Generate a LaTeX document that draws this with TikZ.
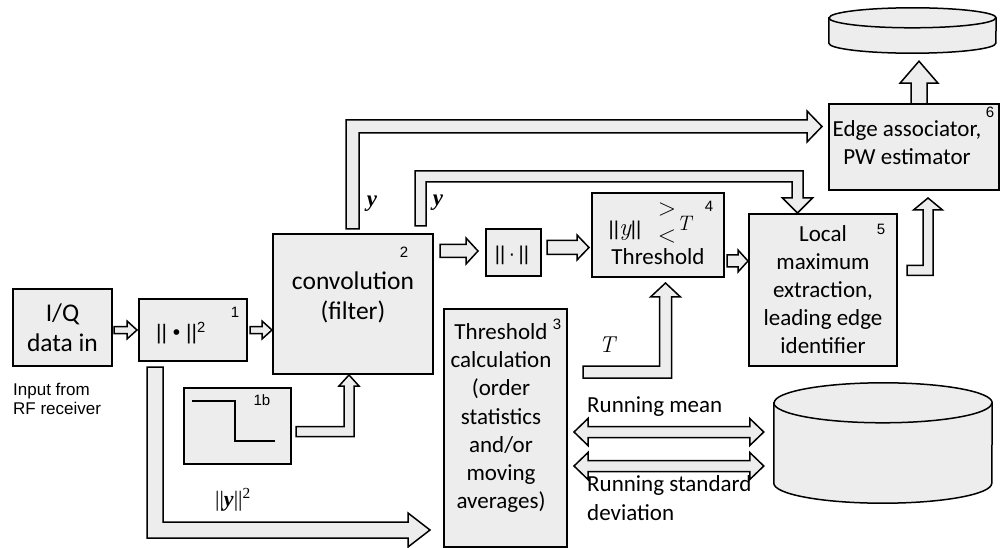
\documentclass[tikz,border=0pt]{standalone}
\usepackage{fontspec}
\setmainfont{Carlito}
\newfontfamily\arialf{Liberation Sans}
\newfontfamily\timesf{Liberation Serif}
\newfontfamily\lmr{Latin Modern Roman}
\usetikzlibrary{calc}
\definecolor{boxgray}{RGB}{237,237,237}

\tikzset{
  blk/.style={draw=black, line width=1.5pt, fill=boxgray, line join=miter},
  box/.style={draw=black, line width=1.6pt, fill=boxgray, inner sep=0pt, outer sep=0pt},
  txt/.style={inner sep=0pt, align=center, font=\fontsize{23}{28.2}\selectfont},
  big/.style={inner sep=0pt, align=center, font=\fontsize{25.5}{30}\selectfont},
  num/.style={inner sep=0pt, font=\arialf\fontsize{15}{15}\selectfont},
}

% straight hollow block arrow: tail #1, tip #2, half shaft #3, half head #4, head length #5
\newcommand\blockarrow[5]{%
  \coordinate (bt) at (#2);
  \coordinate (bh) at ($(#2)!#5!(#1)$);
  \draw[blk] ($(#1)!#3!90:(bt)$) -- ($(bh)!#3!90:(bt)$) -- ($(bh)!#4!90:(bt)$) -- (bt)
    -- ($(bh)!#4!-90:(bt)$) -- ($(bh)!#3!-90:(bt)$) -- ($(#1)!#3!-90:(bt)$) -- cycle;}

% block arrow with one bend: tail #1, corner #2, tip #3
\newcommand\bendarrow[6]{%
  \coordinate (bt) at (#3);
  \coordinate (bk) at (#2);
  \coordinate (bh) at ($(#3)!#6!(#2)$);
  \draw[blk] ($(#1)!#4!90:(bk)$)
    -- ($(#1)!#4!90:(bk) - (#1) + (bk)!#4!90:(bt)$)
    -- ($(bh)!#4!90:(bt)$) -- ($(bh)!#5!90:(bt)$) -- (bt)
    -- ($(bh)!#5!-90:(bt)$) -- ($(bh)!#4!-90:(bt)$)
    -- ($(#1)!#4!-90:(bk) - (#1) + (bk)!#4!-90:(bt)$)
    -- ($(#1)!#4!-90:(bk)$) -- cycle;}

% block arrow with two bends: tail #1, corners #2 and #3, tip #4
\newcommand\twobendarrow[7]{%
  \coordinate (bt) at (#4);
  \coordinate (bk) at (#2);
  \coordinate (bl) at (#3);
  \coordinate (bh) at ($(#4)!#7!(#3)$);
  \draw[blk] ($(#1)!#5!90:(bk)$)
    -- ($(#1)!#5!90:(bk) - (#1) + (bk)!#5!90:(bl)$)
    -- ($(bk)!#5!90:(bl) - (bk) + (bl)!#5!90:(bt)$)
    -- ($(bh)!#5!90:(bt)$) -- ($(bh)!#6!90:(bt)$) -- (bt)
    -- ($(bh)!#6!-90:(bt)$) -- ($(bh)!#5!-90:(bt)$)
    -- ($(bk)!#5!-90:(bl) - (bk) + (bl)!#5!-90:(bt)$)
    -- ($(#1)!#5!-90:(bk) - (#1) + (bk)!#5!-90:(bl)$)
    -- ($(#1)!#5!-90:(bk)$) -- cycle;}

% straight block arrow with heads at both ends
\newcommand\dblarrow[5]{%
  \coordinate (da) at (#1);
  \coordinate (db) at (#2);
  \coordinate (dha) at ($(#1)!#5!(#2)$);
  \coordinate (dhb) at ($(#2)!#5!(#1)$);
  \draw[blk] (da) -- ($(dha)!#4!90:(db)$) -- ($(dha)!#3!90:(db)$) -- ($(dhb)!#3!90:(db)$)
    -- ($(dhb)!#4!90:(db)$) -- (db) -- ($(dhb)!#4!-90:(db)$) -- ($(dhb)!#3!-90:(db)$)
    -- ($(dha)!#3!-90:(db)$) -- ($(dha)!#4!-90:(db)$) -- cycle;}

\begin{document}
\begin{tikzpicture}[x=1pt, y=-1pt]
\useasboundingbox (0,0) rectangle (1002,548);

% input
\node[box, minimum width=99pt, minimum height=77pt] (iq) at (62.5,327.5) {};
\node[big] (iqtext) at (62.5,328) {I/Q\\data in};
\node[inner sep=0pt, align=left, anchor=west, font=\arialf\fontsize{17}{19}\selectfont] (rfnote) at (13,399) {Input from\\RF receiver};

% squared magnitude
\node[box, minimum width=108pt, minimum height=62pt] (b1) at (193,330) {};
\node[inner sep=0pt, font=\arialf\fontsize{21}{21}\selectfont] (b1text) at (181,333) {||\ •\ ||\textsuperscript{2}};
\node[num] (b1num) at (235,312) {1};

% filter template
\node[box, minimum width=107pt, minimum height=76pt] (b1b) at (237.5,426) {};
\node[num] (b1bnum) at (262,400) {1b};
\draw[line width=2.6pt] ($(b1b.north west)+(8,13)$) -- ++(43,0) -- ++(0,40) -- ++(40,0);

% convolution
\node[box, minimum width=160pt, minimum height=140pt] (conv) at (353,304) {};
\node[big] (convtext) at (353,297) {convolution\\(filter)};
\node[num] (convnum) at (404,252) {2};

% threshold calculation
\node[box, minimum width=123pt, minimum height=238pt] (tc) at (505.5,428) {};
\node[txt] (tctext) at (501,418) {Threshold\\calculation\\(order\\statistics\\and/or\\moving\\averages)};
\node[num] (tcnum) at (557,324) {3};

% norm
\node[box, minimum width=55pt, minimum height=47pt] (nrm) at (513.5,252.5) {};
\node[inner sep=0pt, font=\arialf\fontsize{20}{20}\selectfont] (nrmtext) at (512,255) {||\,·\,||};

% threshold comparison
\node[box, minimum width=132pt, minimum height=84pt] (thr) at (658,235) {};
\node[inner sep=0pt, font=\arialf\fontsize{20}{20}\selectfont] (thrnorm) at (625,231) {||{\lmr\itshape\fontsize{25}{25}\selectfont y}||};
\node[inner sep=0pt, font=\lmr\fontsize{24}{24}\selectfont] (thrgt) at (667,210) {>};
\node[inner sep=0pt, font=\lmr\fontsize{24}{24}\selectfont] (thrlt) at (667,237) {<};
\node[inner sep=0pt, font=\lmr\itshape\fontsize{21}{21}\selectfont] (thrT) at (684,223) {T};
\node[txt] (thrtext) at (658,257) {Threshold};
\node[num] (thrnum) at (709,206) {4};

% local maximum extraction
\node[box, minimum width=148pt, minimum height=152pt] (lme) at (823,290) {};
\node[txt, font=\fontsize{23}{28}\selectfont] (lmetext) at (823,290) {Local\\maximum\\extraction,\\leading edge\\identifier};
\node[num] (lmenum) at (881,229) {5};

% edge associator
\node[box, minimum width=170pt, minimum height=86pt] (ea) at (914,147) {};
\node[txt] (eatext) at (907,143) {Edge associator,\\PW estimator};
\node[num] (eanum) at (990,112) {6};

% storage cylinders
\node[minimum width=167pt, minimum height=45pt, inner sep=0pt] (db1) at (912.5,30.5) {};
\draw[blk] ($(db1.north west)+(0,10)$) -- ($(db1.south west)+(0,-10)$)
  arc[start angle=180, end angle=360, x radius=83.5pt, y radius=10pt]
  -- ($(db1.north east)+(0,10)$)
  arc[start angle=0, end angle=180, x radius=83.5pt, y radius=10pt] -- cycle;
\draw[line width=1.5pt] ($(db1.north west)+(0,10)$) arc[start angle=180, end angle=360, x radius=83.5pt, y radius=10pt];

\node[minimum width=218pt, minimum height=120pt, inner sep=0pt] (db2) at (883,443) {};
\draw[blk] ($(db2.north west)+(0,20)$) -- ($(db2.south west)+(0,-20)$)
  arc[start angle=180, end angle=360, x radius=109pt, y radius=20pt]
  -- ($(db2.north east)+(0,20)$)
  arc[start angle=0, end angle=180, x radius=109pt, y radius=20pt] -- cycle;
\draw[line width=1.5pt] ($(db2.north west)+(0,20)$) arc[start angle=180, end angle=360, x radius=109pt, y radius=20pt];

% connectors
\coordinate (a1s) at ($(iq.east|-b1.west)+(2,0)$);
\coordinate (a1e) at ($(b1.west)+(-2,0)$);
\blockarrow{a1s}{a1e}{3.5pt}{9pt}{10pt}

\coordinate (a2s) at ($(b1.east)+(3,0)$);
\coordinate (a2e) at ($(conv.west|-b1.east)+(-1,0)$);
\blockarrow{a2s}{a2e}{3.5pt}{9pt}{10pt}

\coordinate (a3s) at ($(conv.east|-nrm.west)+(7,-1.5)$);
\coordinate (a3e) at ($(nrm.west)+(-8,-1.5)$);
\blockarrow{a3s}{a3e}{6.5pt}{13pt}{12pt}

\coordinate (a4s) at ($(nrm.east)+(6,-5)$);
\coordinate (a4e) at ($(thr.west|-a4s)+(-3,0)$);
\blockarrow{a4s}{a4e}{7pt}{12.5pt}{12pt}

\coordinate (a5s) at ($(thr.east)+(3,26)$);
\coordinate (a5e) at ($(lme.west|-a5s)+(-1,0)$);
\blockarrow{a5s}{a5e}{6pt}{11pt}{10pt}

\coordinate (a6s) at ($(b1b.east)+(5,5.5)$);
\coordinate (a6e) at ($(conv.south)+(-4,1)$);
\coordinate (a6k) at (a6e|-a6s);
\bendarrow{a6s}{a6k}{a6e}{5pt}{10pt}{11pt}

\coordinate (a7s) at ($(b1.south west)+(16,6)$);
\coordinate (a7e) at ($(tc.south west)+(-14,-17)$);
\coordinate (a7k) at (a7s|-a7e);
\bendarrow{a7s}{a7k}{a7e}{8pt}{17pt}{22pt}

\coordinate (a8s) at ($(tc.north east)+(16,63)$);
\coordinate (a8e) at ($(thr.south)+(7.5,6)$);
\coordinate (a8k) at (a8e|-a8s);
\bendarrow{a8s}{a8k}{a8e}{6pt}{15pt}{14pt}

\coordinate (a9s) at ($(lme.east)+(10,-19.5)$);
\coordinate (a9e) at ($(ea.south)+(14,8)$);
\coordinate (a9k) at (a9e|-a9s);
\bendarrow{a9s}{a9k}{a9e}{5pt}{14.5pt}{12pt}

\coordinate (a10s) at ($(ea.north)+(5,0)$);
\coordinate (a10e) at ($(db1.south)+(6.5,8)$);
\blockarrow{a10s}{a10e}{8pt}{19pt}{22pt}

\coordinate (a11s) at ($(conv.north)+(-0.5,-5)$);
\coordinate (a11e) at ($(ea.west)+(-7,-20.5)$);
\coordinate (a11k) at (a11s|-a11e);
\bendarrow{a11s}{a11k}{a11e}{6.5pt}{15.5pt}{15pt}

\coordinate (a12s) at ($(conv.north east)+(-12.5,-8)$);
\coordinate (a12e) at ($(lme.north)+(-25.5,-1)$);
\coordinate (a12k2) at ($(a12e)+(0,-36.5)$);
\coordinate (a12k1) at (a12s|-a12k2);
\twobendarrow{a12s}{a12k1}{a12k2}{a12e}{5.5pt}{15pt}{15pt}

\coordinate (a13s) at ($(tc.east)+(7,4)$);
\coordinate (a13e) at ($(db2.west|-a13s)+(-10,0)$);
\dblarrow{a13s}{a13e}{5.5pt}{13.5pt}{14pt}

\coordinate (a14s) at ($(tc.east)+(7,38)$);
\coordinate (a14e) at ($(db2.west|-a14s)+(-10,0)$);
\dblarrow{a14s}{a14e}{5.5pt}{13.5pt}{14pt}

% connector labels
\node[inner sep=0pt, font=\timesf\bfseries\itshape\fontsize{23}{23}\selectfont] (ylab1) at (372,204) {y};
\node[inner sep=0pt, font=\timesf\bfseries\itshape\fontsize{23}{23}\selectfont] (ylab2) at (438,203) {y};
\node[inner sep=0pt, font=\timesf\fontsize{22}{22}\selectfont] (ynorm) at (233,500) {||\textbf{\textit{y}}||\textsuperscript{2}};
\node[inner sep=0pt, font=\lmr\itshape\fontsize{23}{23}\selectfont] (Tlab) at (607,345) {T};
\node[txt, anchor=west] (rmean) at (587,407) {Running mean};
\node[txt, anchor=west, align=left] (rstd) at (587,498) {Running standard\\deviation};
\end{tikzpicture}
\end{document}
